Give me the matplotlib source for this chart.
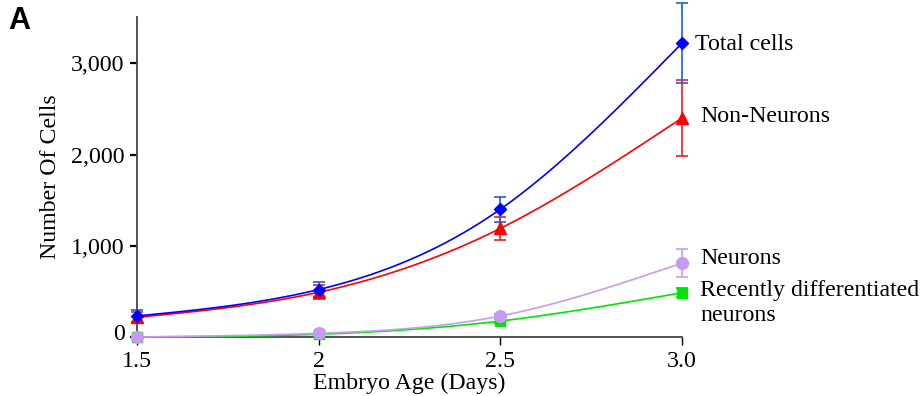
import numpy as np
import matplotlib
matplotlib.use("Agg")
import matplotlib.pyplot as plt
from matplotlib.ticker import FuncFormatter
import matplotlib.transforms as mtransforms

# dati
days = [1.5, 2.0, 2.5, 3.0]
total_cells = [230, 520, 1400, 3220]
total_err = [65, 85, 135, 440]
non_neurons = [215, 490, 1190, 2400]
non_neurons_err = [55, 75, 130, 420]
neurons = [0, 40, 230, 810]
neurons_err = [10, 15, 25, 150]
recent_neurons = [0, 30, 175, 485]
recent_err = [10, 12, 20, 50]

series_names = ["Total cells", "Non-Neurons", "Neurons",
                "Recently differentiated\nneurons"]

plt.rcParams['font.family'] = ['Liberation Serif', 'DejaVu Serif']
FS = 17.2


def spline(x, y, n=200):
    # spline cubica naturale per disegnare la curva liscia tra i punti
    x = np.asarray(x, float)
    y = np.asarray(y, float)
    k = len(x)
    h = np.diff(x)
    A = np.zeros((k, k))
    b = np.zeros(k)
    A[0, 0] = A[-1, -1] = 1
    for i in range(1, k - 1):
        A[i, i - 1] = h[i - 1]
        A[i, i] = 2 * (h[i - 1] + h[i])
        A[i, i + 1] = h[i]
        b[i] = 6 * ((y[i + 1] - y[i]) / h[i] - (y[i] - y[i - 1]) / h[i - 1])
    M = np.linalg.solve(A, b)
    xs = np.linspace(x[0], x[-1], n)
    ys = np.zeros(n)
    for j, xv in enumerate(xs):
        i = min(np.searchsorted(x, xv) - 1, k - 2)
        i = max(i, 0)
        t1 = x[i + 1] - xv
        t2 = xv - x[i]
        ys[j] = (M[i] * t1 ** 3 + M[i + 1] * t2 ** 3) / (6 * h[i]) \
            + (y[i] / h[i] - M[i] * h[i] / 6) * t1 \
            + (y[i + 1] / h[i] - M[i + 1] * h[i] / 6) * t2
    return xs, ys


fig = plt.figure(figsize=(9.24, 3.96), dpi=100)
ax = fig.add_axes([137 / 924, 1 - 337 / 396, (682 - 137) / 924, 320 / 396])

styles = [
    (total_cells, total_err, '#0000ff', '#1f5fe0', 'D', 6.5),
    (non_neurons, non_neurons_err, '#ff0000', '#ee2020', '^', 9),
    (neurons, neurons_err, '#c79cf0', '#c79cf0', 'o', 8.5),
    (recent_neurons, recent_err, '#00e600', '#00d000', 's', 7),
]
# disegno dal basso verso l'alto come nell'originale
for vals, err, col, ecol, mk, ms in reversed(styles):
    xs, ys = spline(days, vals)
    ax.plot(xs, ys, color=col, lw=1.2, zorder=3, clip_on=False)
    ax.errorbar(days, vals, yerr=err, fmt='none', ecolor=ecol, elinewidth=1.2,
                capsize=4, capthick=1.2, zorder=4, clip_on=False)
    ax.plot(days, vals, linestyle='none', marker=mk, markersize=ms, color=col,
            zorder=5, clip_on=False)

ax.set_xlim(1.5, 3.0)
ax.set_ylim(0, 3507)
ax.set_xticks(days)
ax.set_xticklabels(["1.5", "2", "2.5", "3.0"])
ax.set_yticks([0, 1000, 2000, 3000])
ax.yaxis.set_major_formatter(FuncFormatter(lambda v, p: f"{int(v):,}"))
ax.tick_params(labelsize=FS, direction='out', length=5, width=1.6,
               colors='black', pad=4)
ax.tick_params(axis='x', width=1.0, length=6)
for s in ['top', 'right']:
    ax.spines[s].set_visible(False)
ax.spines['left'].set_color('#444444')
ax.spines['bottom'].set_color('#444444')
ax.spines['left'].set_linewidth(1.3)
ax.spines['bottom'].set_linewidth(1.3)

# sposto leggermente in alto l'etichetta "0"
lab0 = ax.get_yticklabels()[0]
lab0.set_transform(lab0.get_transform() +
                   mtransforms.ScaledTranslation(0, 5 / 100, fig.dpi_scale_trans))

ax.set_xlabel("Embryo Age (Days)", fontsize=FS, labelpad=1)
ax.set_ylabel("Number Of Cells", fontsize=FS, labelpad=7)

# etichette delle serie a destra
label_pos = [(695, 44), (700, 116), (700, 259), (700, 303)]
for name, (px, py) in zip(series_names, label_pos):
    fig.text(px / 924, 1 - py / 396, name, fontsize=FS, ha='left',
             va='center', linespacing=1.3)

fig.text(8 / 924, 1 - 21 / 396, "A", fontsize=22, fontweight='bold',
         family='Liberation Sans', ha='left', va='center')

fig.savefig("out.png", dpi=100)
